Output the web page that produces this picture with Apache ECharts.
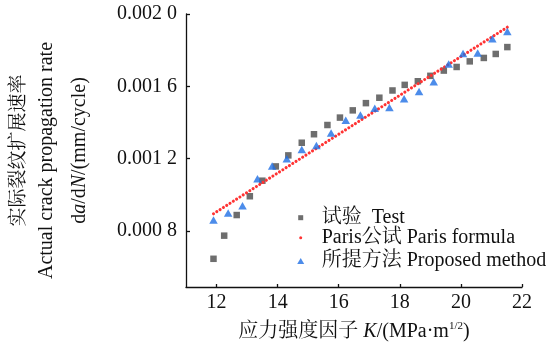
<!DOCTYPE html>
<html>
<head>
<meta charset="utf-8">
<script src="https://cdn.jsdelivr.net/npm/echarts@6/dist/echarts.min.js"></script>
<style>html,body{margin:0;padding:0;background:#fff}#c{width:552px;height:347px}</style>
</head>
<body>
<div id="c"></div>
<script>
// ---- data ----
const testK = [11.90,12.25,12.66,13.09,13.50,13.94,14.35,14.79,15.19,15.63,16.04,16.46,16.89,17.33,17.76,18.16,18.59,19.00,19.44,19.86,20.29,20.75,21.14,21.52];
const testRate = [0.000646,0.000774,0.000888,0.000992,0.001078,0.001157,0.001218,0.001288,0.001335,0.001386,0.001427,0.001467,0.001507,0.001537,0.001577,0.001608,0.001628,0.001658,0.001687,0.001707,0.001738,0.001757,0.001779,0.001817];
const parisK = [11.90,14.79,18.35,21.52];
const parisRate = [0.000895,0.001205,0.001588,0.001927];
const propK = [11.90,12.38,12.85,13.34,13.82,14.30,14.79,15.27,15.75,16.23,16.71,17.18,17.66,18.14,18.63,19.11,19.60,20.07,20.55,21.03,21.52];
const propRate = [0.000860,0.000899,0.000939,0.001089,0.001159,0.001199,0.001251,0.001272,0.001342,0.001412,0.001441,0.001479,0.001483,0.001531,0.001572,0.001625,0.001724,0.001782,0.001784,0.001863,0.001903];
const yTicks = [0.0008,0.0012,0.0016,0.0020];
const xTicks = [12,14,16,18,20,22];
const seriesNames = ['试验  Test','Paris公试 Paris formula','所提方法 Proposed method'];

const FONT = "'Liberation Serif','Times New Roman','Noto Serif CJK SC','Noto Sans CJK SC',serif";
const zip = (a,b) => a.map((v,i)=>[v,b[i]]);

const chart = echarts.init(document.getElementById('c'), null, {renderer:'canvas'});
const legendBase = (name, icon, w, h, left, top, padL, padB) => ({
  data:[{name, icon}], orient:'vertical', left, top, itemWidth:w, itemHeight:h, padding:0,
  textStyle:{fontFamily:FONT, fontSize:20, color:'#111', lineHeight:20, padding:[0,0,padB,padL]}
});
chart.setOption({
  animation:false,
  backgroundColor:'#fff',
  grid:{left:186, right:30, top:14, bottom:58, containLabel:false},
  legend:[
    legendBase(seriesNames[0],'rect',5,5,298.2,200.7,13.5,14),
    legendBase(seriesNames[1],'circle',3,3,299.2,224.2,14.5,7),
    legendBase(seriesNames[2],'triangle',7,6,297.2,248,12.5,6)
  ],
  xAxis:{
    type:'value', min:11, max:22, interval:1,
    name:'{c|应力强度因子 }{i|K}{r|/(MPa·m}{s|1/2}{r|)}',
    nameLocation:'middle', nameGap:34,
    nameTextStyle:{fontFamily:FONT, fontSize:20, color:'#111', rich:{
      c:{fontFamily:FONT,fontSize:20,color:'#111',lineHeight:22},
      i:{fontFamily:FONT,fontSize:20,fontStyle:'italic',color:'#111',lineHeight:22},
      r:{fontFamily:FONT,fontSize:20,color:'#111',lineHeight:22},
      s:{fontFamily:FONT,fontSize:11,color:'#111',verticalAlign:'top',lineHeight:22,padding:[0,0,8,0]}
    }},
    axisLine:{show:true,lineStyle:{color:'#111',width:1.3}},
    axisTick:{show:true,inside:true,length:3,customValues:xTicks,lineStyle:{color:'#111',width:1.3}},
    axisLabel:{customValues:xTicks,fontFamily:FONT,fontSize:20,color:'#111',margin:6},
    splitLine:{show:false}
  },
  yAxis:{
    type:'value', min:0.00049, max:0.0020,
    name:'{a|实际裂纹扩展速率}\n{b|Actual crack propagation rate}\n{r|d}{i|a}{r|/d}{i|N}{r|/(mm/cycle)}',
    nameLocation:'middle', nameGap:89, nameRotate:90,
    nameTextStyle:{fontFamily:FONT, fontSize:20, color:'#111', align:'center', rich:{
      a:{fontFamily:FONT,fontSize:19,color:'#111',lineHeight:24},
      b:{fontFamily:FONT,fontSize:20,color:'#111',lineHeight:32,padding:[0,20,0,0]},
      r:{fontFamily:FONT,fontSize:20,color:'#111',lineHeight:34},
      i:{fontFamily:FONT,fontSize:20,color:'#111',fontStyle:'italic',lineHeight:34}
    }},
    axisLine:{show:true,lineStyle:{color:'#111',width:1.3}},
    axisTick:{show:true,inside:true,length:4,customValues:yTicks,lineStyle:{color:'#111',width:1.3}},
    axisLabel:{customValues:yTicks,fontFamily:FONT,fontSize:20,color:'#111',margin:9,
      formatter:v=>{const s=v.toFixed(4);return s.slice(0,5)+' '+s.slice(5);}},
    splitLine:{show:false}
  },
  series:[
    {name:seriesNames[0], type:'scatter', symbol:'rect', symbolSize:6.5, z:3,
     itemStyle:{color:'#4a4a4a'}, data:zip(testK,testRate)},
    {name:seriesNames[1], type:'line', showSymbol:false, symbol:'circle', z:4,
     itemStyle:{color:'#ff3333'},
     lineStyle:{color:'#ff3333',width:3.1,type:[0.01,3.9],cap:'round'},
     data:zip(parisK,parisRate)},
    {name:seriesNames[2], type:'scatter', symbol:'triangle', symbolSize:[8.5,7.5], z:5,
     itemStyle:{color:'#1f6fe5'}, data:zip(propK,propRate)}
  ]
});
</script>
</body>
</html>
